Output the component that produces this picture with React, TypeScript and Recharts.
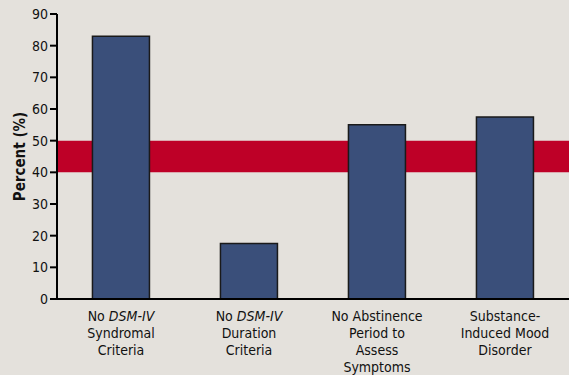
import React from "react";
import { BarChart, Bar, XAxis, YAxis, ReferenceArea } from "recharts";

const categories = ["syndromal", "duration", "abstinence", "substance"];
const values = [83, 17.5, 55, 57.5];
const yTicks = [0, 10, 20, 30, 40, 50, 60, 70, 80, 90];
const bandRange = [40, 50];
// each line: array of [text, italic]
const tickLines: Array<Array<Array<[string, boolean]>>> = [
  [[["No ", false], ["DSM-IV", true]], [["Syndromal", false]], [["Criteria", false]]],
  [[["No ", false], ["DSM-IV", true]], [["Duration", false]], [["Criteria", false]]],
  [[["No Abstinence", false]], [["Period to", false]], [["Assess", false]], [["Symptoms", false]]],
  [[["Substance-", false]], [["Induced Mood", false]], [["Disorder", false]]],
];

const data = categories.map((c, i) => ({ name: c, value: values[i] }));

const FONT = "'Liberation Sans Narrow', 'DejaVu Sans Condensed', 'Liberation Sans', sans-serif";

const XTick = (props: any) => {
  const { x, y, index } = props;
  const lines = tickLines[index] || [];
  return (
    <g>
      {lines.map((segs, li) => (
        <text
          key={li}
          x={x}
          y={y + 14 + li * 17}
          textAnchor="middle"
          fontFamily={FONT}
          fontSize={14}
          fill="#111"
        >
          {segs.map(([t, it], si) => (
            <tspan key={si} fontStyle={it ? "italic" : "normal"}>
              {t}
            </tspan>
          ))}
        </text>
      ))}
    </g>
  );
};

export default function App() {
  return (
    <div
      style={{
        position: "fixed",
        top: 0,
        left: 0,
        width: 569,
        height: 375,
        background: "#e4e1dc",
      }}
    >
      <BarChart
        width={569}
        height={375}
        data={data}
        margin={{ top: 14, right: 0, bottom: 0, left: 0 }}
        barCategoryGap="27.7%"
      >
        <ReferenceArea
          y1={bandRange[0]}
          y2={bandRange[1]}
          fill="#be0027"
          fillOpacity={1}
          stroke="none"
          ifOverflow="extendDomain"
        />
        <XAxis
          dataKey="name"
          tickLine={false}
          axisLine={{ stroke: "#000", strokeWidth: 2 }}
          height={76}
          interval={0}
          tick={<XTick />}
        />
        <YAxis
          domain={[0, 90]}
          ticks={yTicks}
          width={57}
          tickSize={7}
          tickMargin={2}
          axisLine={{ stroke: "#000", strokeWidth: 2 }}
          tickLine={{ stroke: "#000", strokeWidth: 2 }}
          tick={{ fill: "#111", fontSize: 14, fontFamily: FONT }}
          label={{
            value: "Percent (%)",
            angle: -90,
            position: "insideLeft",
            offset: 20,
            style: {
              textAnchor: "middle",
              fontWeight: "bold",
              fontSize: 15,
              fontFamily: FONT,
              fill: "#111",
            },
          }}
        />
        <Bar
          dataKey="value"
          fill="#3a4f7a"
          stroke="#1a1a1a"
          strokeWidth={1.5}
          isAnimationActive={false}
        />
      </BarChart>
    </div>
  );
}
